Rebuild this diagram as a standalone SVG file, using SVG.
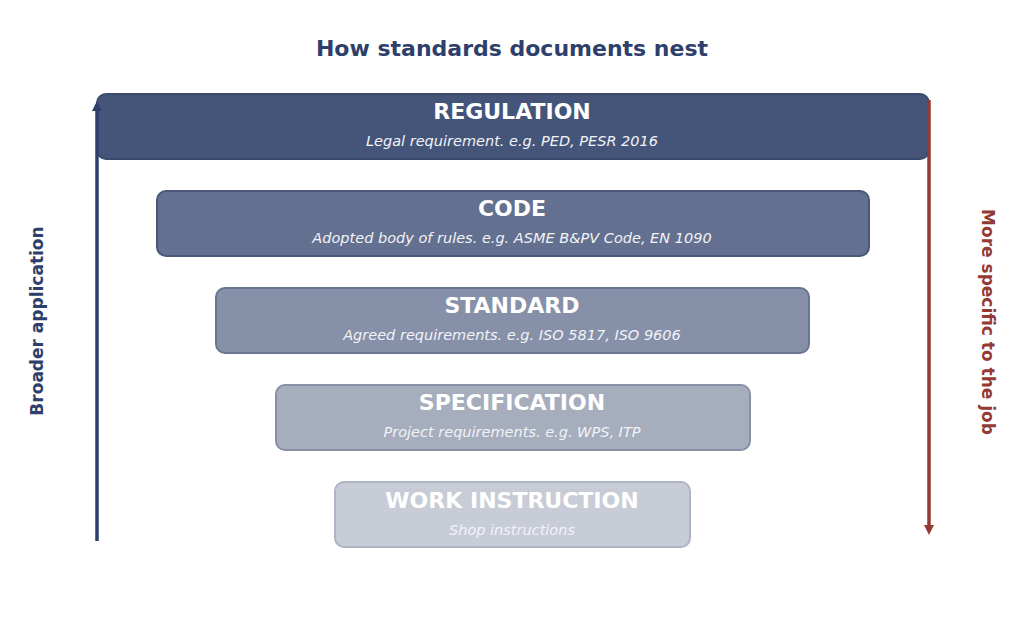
<svg xmlns="http://www.w3.org/2000/svg" width="1024" height="629" viewBox="0 0 1024 629">
<style>
text{font-family:"DejaVu Sans",sans-serif;text-anchor:middle}
.t{font-size:22px;font-weight:bold;fill:#fff}
.s{font-size:14.5px;font-style:italic;fill:#f2f3f7}
.lab{font-size:17px;font-weight:bold}
rect{stroke-width:2}
</style>
<defs>
<marker id="ab" markerWidth="10" markerHeight="10" refX="5" refY="5" orient="auto" markerUnits="userSpaceOnUse" viewBox="0 0 10 10"><path d="M0,0L10,5L0,10z" fill="#2e3f6b"/></marker>
<marker id="ar" markerWidth="10" markerHeight="10" refX="5" refY="5" orient="auto" markerUnits="userSpaceOnUse" viewBox="0 0 10 10"><path d="M0,0L10,5L0,10z" fill="#943a35"/></marker>
</defs>
<rect width="1024" height="629" fill="#fff" style="stroke:none"/>
<text x="512" y="56" style="font-size:22px;font-weight:bold;fill:#2e3f6b">How standards documents nest</text>
<g id="regulation"><rect x="97" y="94" width="832" height="65" rx="9" fill="#45557a" stroke="#3a4a6e"/><text class="t" x="512" y="119">REGULATION</text><text class="s" x="512" y="146">Legal requirement.  e.g. PED, PESR 2016</text></g>
<g id="code"><rect x="157" y="191" width="712" height="65" rx="9" fill="#637090" stroke="#4a5779"/><text class="t" x="512" y="216">CODE</text><text class="s" x="512" y="243">Adopted body of rules.  e.g. ASME B&amp;PV Code, EN 1090</text></g>
<g id="standard"><rect x="216" y="288" width="593" height="65" rx="9" fill="#8690a8" stroke="#6a7592"/><text class="t" x="512" y="313">STANDARD</text><text class="s" x="512" y="340">Agreed requirements.  e.g. ISO 5817, ISO 9606</text></g>
<g id="specification"><rect x="276" y="385" width="474" height="65" rx="9" fill="#a6adbd" stroke="#8890a7"/><text class="t" x="512" y="410">SPECIFICATION</text><text class="s" x="512" y="437">Project requirements.  e.g. WPS, ITP</text></g>
<g id="work-instruction"><rect x="335" y="482" width="355" height="65" rx="9" fill="#c8ccd7" stroke="#aeb4c5"/><text class="t" x="512" y="508">WORK INSTRUCTION</text><text class="s" x="512" y="535">Shop instructions</text></g>
<g id="connectors">
<line x1="97" y1="541" x2="97" y2="106" stroke="#2e3f6b" stroke-width="3.5" marker-end="url(#ab)"/>
<line x1="929" y1="100" x2="929" y2="530" stroke="#943a35" stroke-width="3.5" marker-end="url(#ar)"/>
</g>
<text class="lab" transform="translate(43,321) rotate(-90)" fill="#2e3f6b">Broader application</text>
<text class="lab" transform="translate(982,322) rotate(90)" fill="#943a35">More specific to the job</text>
</svg>
